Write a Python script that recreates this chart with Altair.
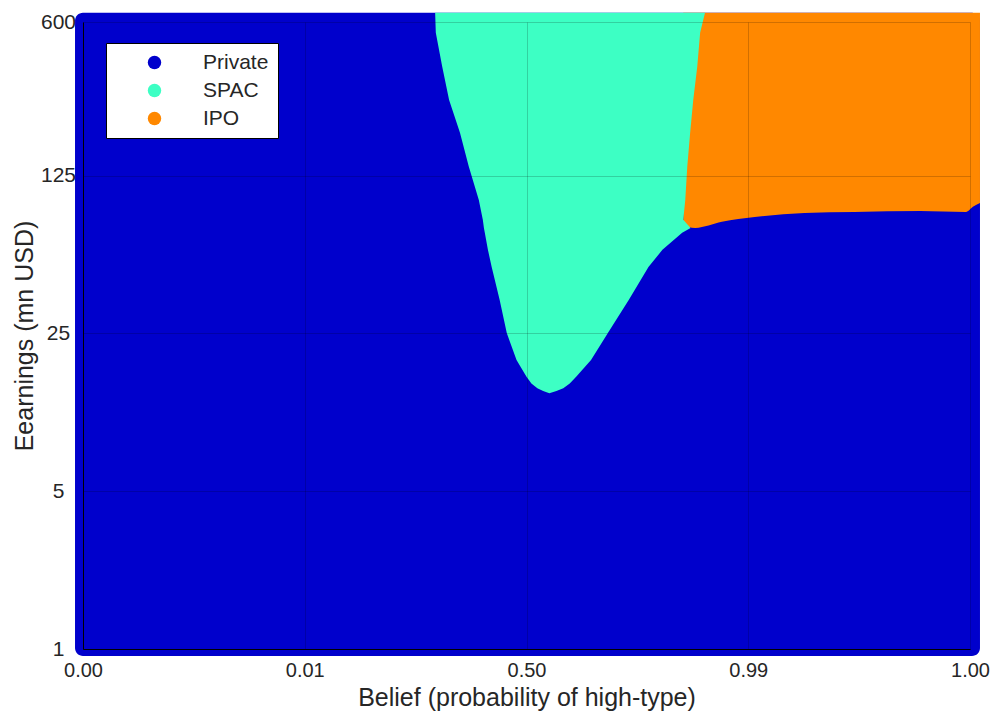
import altair as alt
import pandas as pd

# ---------------- data ----------------
regimes = ["Private", "SPAC", "IPO"]
colors = ["#0000cc", "#3dffc4", "#ff8800"]

x_tick_pos = [0, 1, 2, 3, 4]
x_tick_labels = ["0.00", "0.01", "0.50", "0.99", "1.00"]
y_ticks = [1, 5, 25, 125, 600]

# full state space (the plotted dots overhang the axes a little)
space_x = [-0.036, 4.045]
space_y = [0.93, 660]

# SPAC region: earnings rows with left / right belief boundary (axis position units)
spac_y = [13.6, 13.9, 14.3, 15.0, 16.1, 19.1, 25.1, 35.2, 49.3, 58.7, 69.8, 73.4, 79.7,
          97.7, 137, 194, 271, 380, 537, 660]
spac_left = [2.103, 2.075, 2.049, 2.022, 2.000, 1.955, 1.911, 1.879, 1.843, 1.826, 1.812, 1.808, 1.803,
             1.785, 1.740, 1.700, 1.651, 1.620, 1.591, 1.588]
spac_right = [2.103, 2.135, 2.166, 2.195, 2.224, 2.291, 2.367, 2.461, 2.550, 2.613, 2.702, 2.740, 2.707,
              2.716, 2.725, 2.738, 2.752, 2.770, 2.783, 2.805]

# IPO region: belief positions with lower earnings boundary
ipo_x = [2.707, 2.729, 2.761, 2.881, 3.029, 3.253, 3.477, 3.776, 3.982, 4.013, 4.045]
ipo_bottom = [78.1, 74.3, 73.4, 78.1, 82.0, 85.4, 86.3, 87.2, 86.3, 91.0, 94.6]
ipo_top = 660

# ---------------- tables ----------------
bg_df = pd.DataFrame({"regime": ["Private"], "x": [space_x[0]], "x2": [space_x[1]],
                      "y": [space_y[0]], "y2": [space_y[1]]})
spac_df = pd.DataFrame({"regime": "SPAC", "y": spac_y, "xl": spac_left, "xr": spac_right})
ipo_df = pd.DataFrame({"regime": "IPO", "x": ipo_x, "yb": ipo_bottom,
                       "yt": [ipo_top] * len(ipo_x)})

label_expr = "[" + ",".join(f"'{l}'" for l in x_tick_labels) + "][datum.value]"

FONT = "Liberation Sans"
TXT = "#262626"

x_scale = alt.Scale(domain=[0, 4], nice=False, zero=False)
y_scale = alt.Scale(type="log", base=5, domain=[1, 600], nice=False)

x_axis = alt.Axis(values=x_tick_pos, labelExpr=label_expr,
                  title="Belief (probability of high-type)",
                  grid=True, gridColor="black", gridOpacity=0.18,
                  domainColor="black", tickSize=0, labelPadding=11,
                  labelFlush=False, labelOverlap=False,
                  labelFontSize=20, titleFontSize=25, labelColor=TXT, titleColor=TXT,
                  labelFont=FONT, titleFont=FONT, titleFontWeight="normal",
                  titleBaseline="alphabetic", titleY=56, zindex=1)
y_axis = alt.Axis(values=y_ticks, title="Eearnings (mn USD)",
                  grid=True, gridColor="black", gridOpacity=0.18,
                  domainColor="black", tickSize=0, labelPadding=25,
                  labelFlush=False, labelOverlap=False,
                  labelAlign="center", labelBaseline="middle",
                  labelFontSize=21, titleFontSize=25, labelColor=TXT, titleColor=TXT,
                  labelFont=FONT, titleFont=FONT, titleFontWeight="normal",
                  titleBaseline="alphabetic", titleX=-51, zindex=1)

color = alt.Color("regime:N",
                  scale=alt.Scale(domain=regimes, range=colors),
                  legend=alt.Legend(orient="none", legendX=23, legendY=21, title=None,
                                    symbolType="circle", symbolSize=180,
                                    symbolStrokeWidth=0, symbolOffset=29,
                                    labelOffset=38, labelFontSize=21, labelFont=FONT,
                                    labelColor=TXT, padding=9, rowPadding=6,
                                    strokeColor="black", fillColor="white"))

bg = alt.Chart(bg_df).mark_rect(clip=False, cornerRadius=8).encode(
    x=alt.X("x:Q", scale=x_scale, axis=x_axis),
    x2="x2:Q",
    y=alt.Y("y:Q", scale=y_scale, axis=y_axis),
    y2="y2:Q",
    color=color,
)

ipo = alt.Chart(ipo_df).mark_area(clip=False, orient="vertical", interpolate="monotone").encode(
    x=alt.X("x:Q", scale=x_scale),
    y=alt.Y("yb:Q", scale=y_scale),
    y2="yt:Q",
    color=color,
)

spac = alt.Chart(spac_df).mark_area(clip=False, orient="horizontal").encode(
    y=alt.Y("y:Q", scale=y_scale),
    x=alt.X("xl:Q", scale=x_scale),
    x2="xr:Q",
    color=color,
)

chart = alt.layer(bg, ipo, spac).properties(
    width=887, height=627,
    autosize=alt.AutoSizeParams(type="none"),
    padding={"left": 75, "top": 14, "right": 20, "bottom": 62},
).configure(font=FONT).configure_view(stroke=None)

chart.save("out.html", embed_options={"renderer": "svg", "actions": False})
